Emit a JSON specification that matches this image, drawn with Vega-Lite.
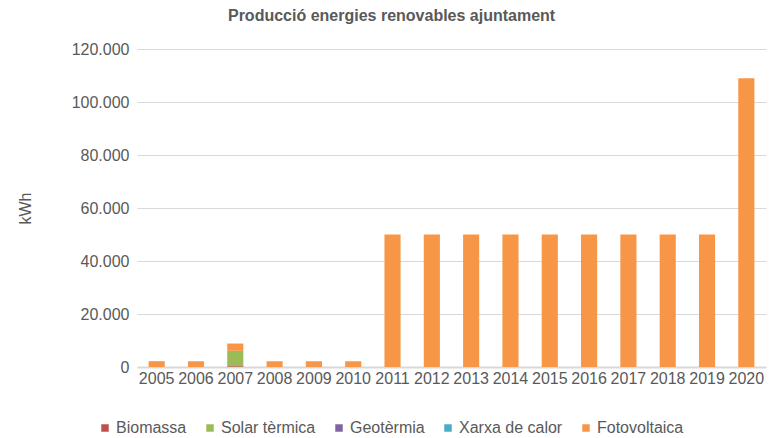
{
  "$schema": "https://vega.github.io/schema/vega-lite/v6.json",
  "autosize": {"type": "none"},
  "padding": {"left": 137, "top": 49, "right": 3, "bottom": 71},
  "width": 629,
  "height": 318,
  "background": "white",
  "title": {
    "text": "Producció energies renovables ajuntament",
    "font": "Liberation Sans",
    "fontSize": 16,
    "fontWeight": "bold",
    "color": "#595959",
    "anchor": "middle",
    "frame": "bounds",
    "baseline": "alphabetic",
    "offset": 4
  },
  "data": {
    "values": [
      {"any": "2005", "font": "Fotovoltaica", "ordre": 5, "kwh": 2200},
      {"any": "2006", "font": "Fotovoltaica", "ordre": 5, "kwh": 2200},
      {"any": "2007", "font": "Biomassa", "ordre": 1, "kwh": 300},
      {"any": "2007", "font": "Solar tèrmica", "ordre": 2, "kwh": 5800},
      {"any": "2007", "font": "Fotovoltaica", "ordre": 5, "kwh": 2750},
      {"any": "2008", "font": "Fotovoltaica", "ordre": 5, "kwh": 2200},
      {"any": "2009", "font": "Fotovoltaica", "ordre": 5, "kwh": 2200},
      {"any": "2010", "font": "Fotovoltaica", "ordre": 5, "kwh": 2200},
      {"any": "2011", "font": "Fotovoltaica", "ordre": 5, "kwh": 50000},
      {"any": "2012", "font": "Fotovoltaica", "ordre": 5, "kwh": 50000},
      {"any": "2013", "font": "Fotovoltaica", "ordre": 5, "kwh": 50000},
      {"any": "2014", "font": "Fotovoltaica", "ordre": 5, "kwh": 50000},
      {"any": "2015", "font": "Fotovoltaica", "ordre": 5, "kwh": 50000},
      {"any": "2016", "font": "Fotovoltaica", "ordre": 5, "kwh": 50000},
      {"any": "2017", "font": "Fotovoltaica", "ordre": 5, "kwh": 50000},
      {"any": "2018", "font": "Fotovoltaica", "ordre": 5, "kwh": 50000},
      {"any": "2019", "font": "Fotovoltaica", "ordre": 5, "kwh": 50000},
      {"any": "2020", "font": "Fotovoltaica", "ordre": 5, "kwh": 109000}
    ]
  },
  "mark": {"type": "bar"},
  "encoding": {
    "x": {
      "field": "any",
      "type": "ordinal",
      "scale": {"paddingInner": 0.59, "paddingOuter": 0.295},
      "axis": {
        "title": null,
        "labelAngle": 0,
        "labelFont": "Liberation Sans",
        "labelFontSize": 16,
        "labelColor": "#595959",
        "labelPadding": 3,
        "ticks": false,
        "domainColor": "#d9d9d9",
        "domainWidth": 2,
        "grid": false
      }
    },
    "y": {
      "field": "kwh",
      "type": "quantitative",
      "stack": "zero",
      "scale": {"domain": [0, 120000], "nice": false},
      "axis": {
        "title": "kWh",
        "titleFont": "Liberation Sans",
        "titleFontSize": 16,
        "titleFontWeight": "normal",
        "titleColor": "#595959",
        "titlePadding": 38,
        "values": [0, 20000, 40000, 60000, 80000, 100000, 120000],
        "labelExpr": "replace(format(datum.value, ','), ',', '.')",
        "labelFont": "Liberation Sans",
        "labelFontSize": 16,
        "labelColor": "#595959",
        "labelPadding": 8,
        "ticks": false,
        "domain": false,
        "gridColor": "#d9d9d9",
        "gridWidth": 1
      }
    },
    "color": {
      "field": "font",
      "type": "nominal",
      "scale": {
        "domain": ["Biomassa", "Solar tèrmica", "Geotèrmia", "Xarxa de calor", "Fotovoltaica"],
        "range": ["#C0504D", "#9BBB59", "#8064A2", "#4BACC6", "#F79646"]
      },
      "legend": {
        "title": null,
        "orient": "none",
        "direction": "horizontal",
        "legendX": -40,
        "legendY": 371,
        "symbolType": "square",
        "symbolSize": 56,
        "symbolStrokeWidth": 0,
        "symbolOpacity": 1,
        "labelFont": "Liberation Sans",
        "labelFontSize": 16,
        "labelColor": "#595959",
        "labelOffset": 3,
        "columnPadding": 15
      }
    },
    "order": {"field": "ordre", "type": "quantitative", "sort": "ascending"}
  },
  "config": {
    "view": {"stroke": null},
    "font": "Liberation Sans"
  }
}
